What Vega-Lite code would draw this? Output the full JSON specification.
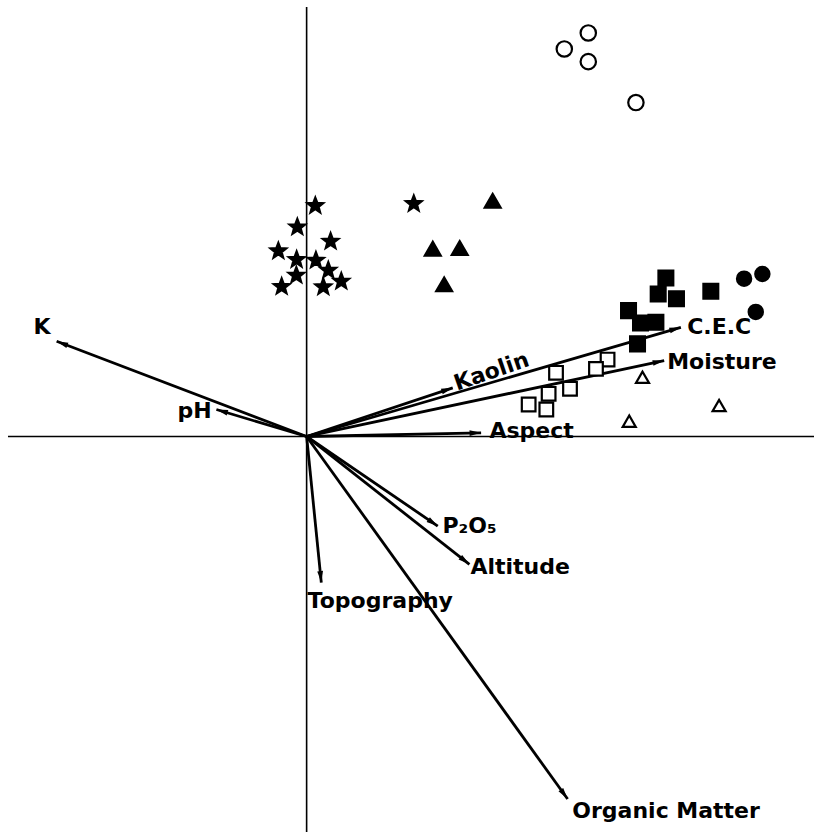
{
  "$schema": "https://vega.github.io/schema/vega-lite/v6.json",
  "width": 815,
  "height": 833,
  "autosize": {"type": "fit", "contains": "padding"},
  "padding": 0,
  "background": "white",
  "config": {"view": {"stroke": null}, "axis": {"disable": true}, "legend": {"disable": true}},
  "datasets": {
    "vectors": [
      {"var": "K", "x": -2.503, "y": 0.953, "lx": -2.65, "ly": 1.10},
      {"var": "pH", "x": -0.903, "y": 0.27, "lx": -0.95, "ly": 0.26},
      {"var": "Kaolin", "x": 1.463, "y": 0.487, "lx": 1.85, "ly": 0.65},
      {"var": "C.E.C", "x": 3.747, "y": 1.093, "lx": 3.81, "ly": 1.10},
      {"var": "Moisture", "x": 3.58, "y": 0.76, "lx": 3.61, "ly": 0.75},
      {"var": "Aspect", "x": 1.747, "y": 0.037, "lx": 1.83, "ly": 0.05},
      {"var": "P₂O₅", "x": 1.313, "y": -0.897, "lx": 1.36, "ly": -0.90},
      {"var": "Altitude", "x": 1.63, "y": -1.28, "lx": 1.64, "ly": -1.31},
      {"var": "Topography", "x": 0.147, "y": -1.463, "lx": 0.01, "ly": -1.65},
      {"var": "Organic Matter", "x": 2.613, "y": -3.63, "lx": 2.66, "ly": -3.75}
    ],
    "scores": [
      {"g": "Group 1", "x": 0.087, "y": 2.31},
      {"g": "Group 1", "x": -0.093, "y": 2.097},
      {"g": "Group 1", "x": 0.24, "y": 1.953},
      {"g": "Group 1", "x": -0.283, "y": 1.857},
      {"g": "Group 1", "x": -0.10, "y": 1.77},
      {"g": "Group 1", "x": 0.093, "y": 1.763},
      {"g": "Group 1", "x": 0.217, "y": 1.663},
      {"g": "Group 1", "x": -0.103, "y": 1.613},
      {"g": "Group 1", "x": 0.347, "y": 1.553},
      {"g": "Group 1", "x": -0.25, "y": 1.50},
      {"g": "Group 1", "x": 0.167, "y": 1.497},
      {"g": "Group 1", "x": 1.073, "y": 2.33},
      {"g": "Group 2", "x": 1.863, "y": 2.36},
      {"g": "Group 2", "x": 1.263, "y": 1.88},
      {"g": "Group 2", "x": 1.533, "y": 1.887},
      {"g": "Group 2", "x": 1.377, "y": 1.523},
      {"g": "Group 3", "x": 2.82, "y": 4.04},
      {"g": "Group 3", "x": 2.58, "y": 3.88},
      {"g": "Group 3", "x": 2.82, "y": 3.753},
      {"g": "Group 3", "x": 3.297, "y": 3.343},
      {"g": "Group 4", "x": 3.597, "y": 1.587},
      {"g": "Group 4", "x": 3.52, "y": 1.427},
      {"g": "Group 4", "x": 3.703, "y": 1.38},
      {"g": "Group 4", "x": 4.047, "y": 1.453},
      {"g": "Group 4", "x": 3.223, "y": 1.26},
      {"g": "Group 4", "x": 3.343, "y": 1.137},
      {"g": "Group 4", "x": 3.497, "y": 1.143},
      {"g": "Group 4", "x": 3.313, "y": 0.927},
      {"g": "Group 5", "x": 4.38, "y": 1.58},
      {"g": "Group 5", "x": 4.563, "y": 1.627},
      {"g": "Group 5", "x": 4.497, "y": 1.247},
      {"g": "Group 6", "x": 2.497, "y": 0.637},
      {"g": "Group 6", "x": 3.013, "y": 0.77},
      {"g": "Group 6", "x": 2.897, "y": 0.677},
      {"g": "Group 6", "x": 2.423, "y": 0.427},
      {"g": "Group 6", "x": 2.637, "y": 0.477},
      {"g": "Group 6", "x": 2.223, "y": 0.32},
      {"g": "Group 6", "x": 2.40, "y": 0.27},
      {"g": "Group 7", "x": 3.363, "y": 0.593},
      {"g": "Group 7", "x": 4.13, "y": 0.31},
      {"g": "Group 7", "x": 3.23, "y": 0.153}
    ]
  },
  "layer": [
    {
      "data": {"values": [{}]},
      "mark": {"type": "rule", "color": "black", "strokeWidth": 1.6},
      "encoding": {
        "x": {"datum": 0, "type": "quantitative", "scale": {"domain": [-3.07, 5.08], "nice": false, "zero": false}, "axis": null},
        "y": {"datum": 4.30, "type": "quantitative", "scale": {"domain": [-3.96, 4.37], "nice": false, "zero": false}, "axis": null},
        "y2": {"datum": -3.96}
      }
    },
    {
      "data": {"values": [{}]},
      "mark": {"type": "rule", "color": "black", "strokeWidth": 1.6},
      "encoding": {
        "y": {"datum": 0, "type": "quantitative"},
        "x": {"datum": -2.99, "type": "quantitative"},
        "x2": {"datum": 5.08}
      }
    },
    {
      "data": {"name": "vectors"},
      "mark": {"type": "rule", "color": "black", "strokeWidth": 2.8},
      "encoding": {
        "x": {"field": "x", "type": "quantitative"},
        "y": {"field": "y", "type": "quantitative"},
        "x2": {"datum": 0},
        "y2": {"datum": 0}
      }
    },
    {
      "data": {"name": "vectors"},
      "transform": [{"calculate": "(atan2(datum.x, datum.y) * 180 / PI + 360) % 360", "as": "ang"}],
      "mark": {"type": "point", "shape": "M0,0L0.55,2.2L-0.55,2.2Z", "filled": true, "color": "black", "size": 110, "opacity": 1},
      "encoding": {
        "x": {"field": "x", "type": "quantitative"},
        "y": {"field": "y", "type": "quantitative"},
        "angle": {"field": "ang", "type": "quantitative", "scale": null}
      }
    },
    {
      "data": {"name": "scores"},
      "mark": {"type": "point", "filled": true, "stroke": "black", "strokeWidth": 2.2, "opacity": 1},
      "encoding": {
        "x": {"field": "x", "type": "quantitative"},
        "y": {"field": "y", "type": "quantitative"},
        "shape": {"field": "g", "type": "nominal", "legend": null, "scale": {
          "domain": ["Group 1", "Group 2", "Group 3", "Group 4", "Group 5", "Group 6", "Group 7"],
          "range": ["M0,-1L0.247,-0.34L0.951,-0.309L0.399,0.13L0.588,0.809L0,0.42L-0.588,0.809L-0.399,0.13L-0.951,-0.309L-0.247,-0.34Z", "triangle-up", "circle", "square", "circle", "square", "triangle-up"]}},
        "fill": {"field": "g", "type": "nominal", "legend": null, "scale": {
          "domain": ["Group 1", "Group 2", "Group 3", "Group 4", "Group 5", "Group 6", "Group 7"],
          "range": ["black", "black", "white", "black", "black", "white", "white"]}},
        "size": {"field": "g", "type": "nominal", "legend": null, "scale": {
          "domain": ["Group 1", "Group 2", "Group 3", "Group 4", "Group 5", "Group 6", "Group 7"],
          "range": [270, 170, 170, 140, 140, 135, 160]}}
      }
    },
    {
      "data": {"name": "vectors"},
      "transform": [{"filter": {"field": "var", "oneOf": ["C.E.C", "Moisture", "Aspect", "P₂O₅", "Altitude", "Topography", "Organic Matter"]}}],
      "mark": {"type": "text", "align": "left", "baseline": "middle", "font": "DejaVu Sans", "fontWeight": "bold", "fontSize": 22, "color": "black"},
      "encoding": {
        "x": {"field": "lx", "type": "quantitative"},
        "y": {"field": "ly", "type": "quantitative"},
        "text": {"field": "var"}
      }
    },
    {
      "data": {"name": "vectors"},
      "transform": [{"filter": {"field": "var", "equal": "pH"}}],
      "mark": {"type": "text", "align": "right", "baseline": "middle", "font": "DejaVu Sans", "fontWeight": "bold", "fontSize": 22, "color": "black"},
      "encoding": {
        "x": {"field": "lx", "type": "quantitative"},
        "y": {"field": "ly", "type": "quantitative"},
        "text": {"field": "var"}
      }
    },
    {
      "data": {"name": "vectors"},
      "transform": [{"filter": {"field": "var", "equal": "K"}}],
      "mark": {"type": "text", "align": "center", "baseline": "middle", "font": "DejaVu Sans", "fontWeight": "bold", "fontSize": 22, "color": "black"},
      "encoding": {
        "x": {"field": "lx", "type": "quantitative"},
        "y": {"field": "ly", "type": "quantitative"},
        "text": {"field": "var"}
      }
    },
    {
      "data": {"name": "vectors"},
      "transform": [{"filter": {"field": "var", "equal": "Kaolin"}}],
      "mark": {"type": "text", "align": "center", "baseline": "middle", "angle": 341, "font": "DejaVu Sans", "fontWeight": "bold", "fontSize": 22, "color": "black"},
      "encoding": {
        "x": {"field": "lx", "type": "quantitative"},
        "y": {"field": "ly", "type": "quantitative"},
        "text": {"field": "var"}
      }
    }
  ]
}
